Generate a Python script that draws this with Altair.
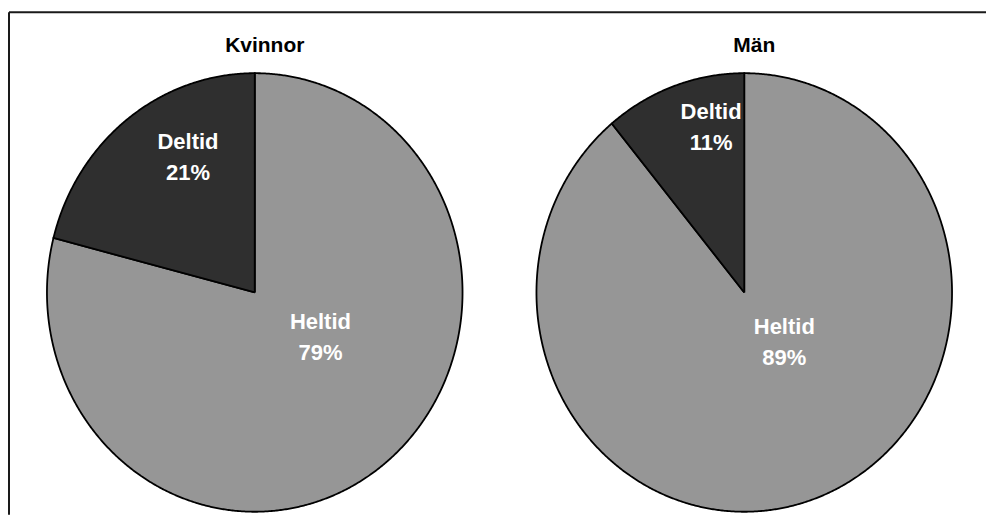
import altair as alt
import pandas as pd

# ---- data ----
groups = ["Kvinnor", "Män"]
categories = ["Heltid", "Deltid"]
kvinnor_values = [79, 21]
man_values = [89, 11]
values_by_group = [kvinnor_values, man_values]

# ---- styles ----
slice_colors = ["#969696", "#2f2f2f"]
FONT = "Liberation Sans"
PANEL_W = 416
PANEL_H = 439


def panel(group, values, with_frame):
    df = pd.DataFrame({"cat": categories, "value": values,
                       "idx": list(range(len(categories)))})
    base = (
        alt.Chart(df)
        .transform_window(end="sum(value)", sort=[alt.SortField("idx")], frame=[None, 0])
        .transform_joinaggregate(total="sum(value)")
        .transform_calculate(start="datum.end - datum.value")
    )
    xs = alt.Scale(domain=[-1, 1], nice=False, zero=False)
    ys = alt.Scale(domain=[-1, 1], nice=False, zero=False)

    layers = []
    for cat, col in zip(categories, slice_colors):
        layer = (
            base.transform_filter(alt.datum.cat == cat)
            .transform_calculate(pts="sequence(datum.start * 10 - 1, datum.end * 10 + 2)")
            .transform_flatten(["pts"])
            .transform_calculate(ang="datum.pts / (datum.total * 10) * 2 * PI")
            .transform_calculate(
                inside="datum.pts >= datum.start * 10 && datum.pts <= datum.end * 10")
            .transform_calculate(px="datum.inside ? sin(datum.ang) : 0")
            .transform_calculate(py="datum.inside ? cos(datum.ang) : 0")
            .mark_line(fill=col, stroke="black", strokeWidth=1.8, strokeJoin="miter")
            .encode(
                x=alt.X("px:Q", scale=xs, axis=None),
                y=alt.Y("py:Q", scale=ys, axis=None),
                order=alt.Order("pts:Q"),
            )
        )
        layers.append(layer)

    labels = (
        base.transform_calculate(mid="(datum.start + datum.value / 2) / datum.total * 2 * PI")
        .transform_calculate(frac="datum.value / datum.total")
        .transform_calculate(r="0.73 - 0.42 * datum.frac")
        .transform_calculate(lx="datum.r * sin(datum.mid)")
        .transform_calculate(ly="datum.r * cos(datum.mid)")
        .transform_calculate(lbl="datum.cat + '|' + datum.value + '%'")
        .mark_text(font=FONT, fontSize=22, fontWeight="bold", color="white",
                   lineBreak="|", lineHeight=31, align="center", baseline="middle",
                   dx=15, dy=-39)
        .encode(
            x=alt.X("lx:Q", scale=xs, axis=None),
            y=alt.Y("ly:Q", scale=ys, axis=None),
            text="lbl:N",
        )
    )
    layers.append(labels)

    title = (
        alt.Chart(pd.DataFrame({"t": [group]}))
        .mark_text(font=FONT, fontSize=21, fontWeight="bold", color="black",
                   align="center", baseline="alphabetic")
        .encode(text="t:N", x=alt.value(PANEL_W / 2 + 10), y=alt.value(-21))
    )
    layers.append(title)

    if with_frame:
        one = pd.DataFrame({"k": [0]})
        top_rule = alt.Chart(one).mark_rule(color="#1a1a1a", strokeWidth=2).encode(
            x=alt.value(-38), x2=alt.value(940), y=alt.value(-61))
        left_rule = alt.Chart(one).mark_rule(color="#1a1a1a", strokeWidth=2).encode(
            x=alt.value(-38), y=alt.value(-61), y2=alt.value(442))
        layers = [top_rule, left_rule] + layers

    return alt.layer(*layers).properties(width=PANEL_W, height=PANEL_H)


panels = [panel(g, v, i == 0) for i, (g, v) in enumerate(zip(groups, values_by_group))]

chart = (
    alt.hconcat(*panels, spacing=74, bounds="flush")
    .properties(padding={"left": 0, "top": 3, "right": 0, "bottom": 0}, background="white")
    .configure_view(stroke=None)
)

chart.save("out.html", embed_options={"renderer": "svg", "actions": False})
